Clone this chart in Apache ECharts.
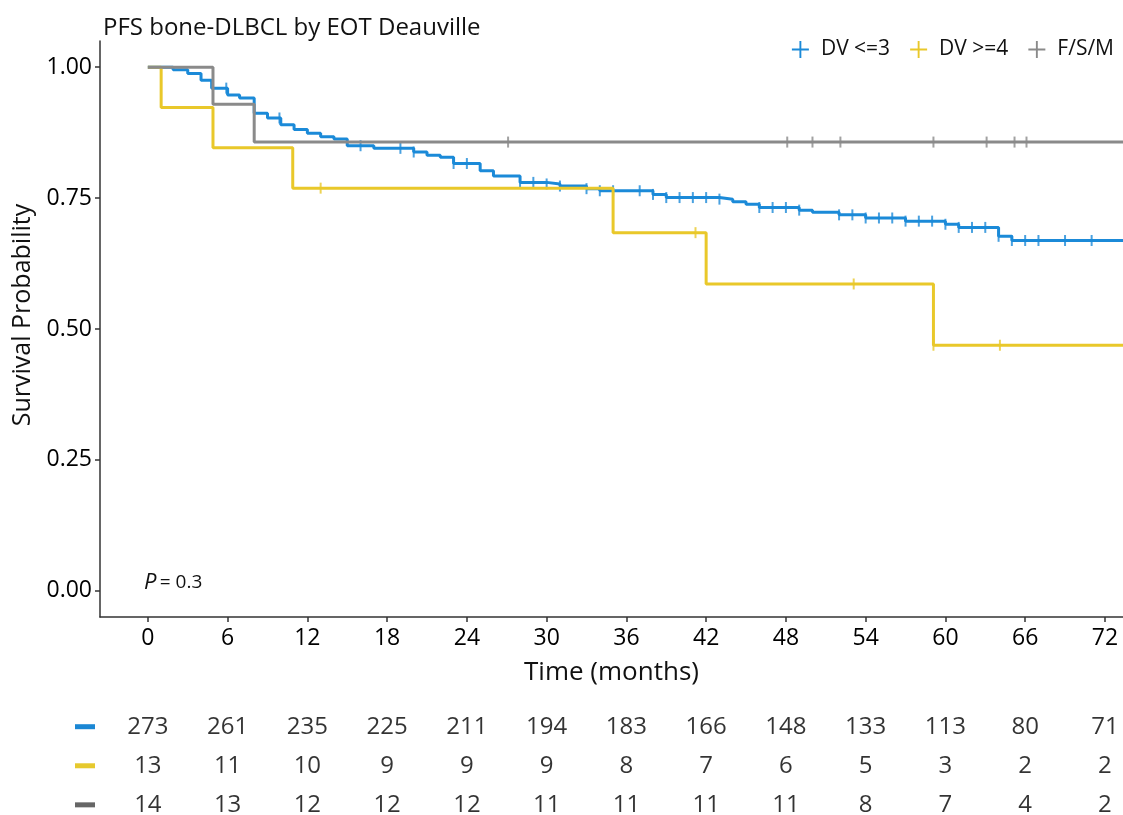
<!DOCTYPE html>
<html>
<head>
<meta charset="utf-8">
<script src="https://cdn.jsdelivr.net/npm/echarts@6/dist/echarts.min.js"></script>
<style>
html,body{margin:0;padding:0;background:#fff;}
#chart{width:1123px;height:815px;}
</style>
</head>
<body>
<div id="chart"></div>
<script>
// ---------- data ----------
const timeTicks = [0, 6, 12, 18, 24, 30, 36, 42, 48, 54, 60, 66, 72];
const yTicks = [0, 0.25, 0.5, 0.75, 1];
const groupNames = ['DV <=3', 'DV >=4', 'F/S/M'];
const rowIndex = [0, 1, 2];
const followUpEnd = 74;

const blueTimes = [0, 1.9, 3.0, 4.0, 4.8, 6.0, 6.9, 8.0, 9.0, 10.0, 11.0, 12.0, 13.0, 14.0, 15.0, 17.0, 20.0, 21.0, 22.0, 23.0, 25.0, 26.0, 28.0, 30.0, 31.0, 33.0, 34.0, 38.0, 39.0, 43.0, 44.0, 45.0, 46.0, 49.0, 50.0, 52.0, 54.0, 57.0, 60.0, 61.0, 64.0, 65.0];
const blueSurv  = [1.000, 0.995, 0.988, 0.975, 0.960, 0.947, 0.941, 0.912, 0.903, 0.890, 0.881, 0.874, 0.867, 0.863, 0.850, 0.845, 0.838, 0.832, 0.828, 0.816, 0.802, 0.792, 0.780, 0.777, 0.773, 0.768, 0.764, 0.757, 0.751, 0.748, 0.743, 0.738, 0.732, 0.727, 0.723, 0.718, 0.712, 0.706, 0.700, 0.694, 0.677, 0.669];
const blueCensor = [5.9, 9.9, 16.0, 19.0, 20.0, 23.0, 24.0, 28.0, 29.0, 30.0, 31.0, 33.0, 34.0, 35.0, 37.0, 38.0, 39.0, 40.0, 41.0, 42.0, 43.0, 46.0, 47.0, 48.0, 49.0, 52.0, 53.0, 54.0, 55.0, 56.0, 57.0, 58.0, 59.0, 60.0, 61.0, 62.0, 63.0, 64.0, 65.0, 66.0, 67.0, 69.0, 71.0];

const yellowTimes = [0, 1.0, 4.9, 10.9, 35.0, 42.0, 59.1];
const yellowSurv  = [1.000, 0.923, 0.846, 0.769, 0.684, 0.586, 0.469];
const yellowCensor = [13.0, 41.2, 53.1, 59.1, 64.1];

const grayTimes = [0, 4.9, 8.0];
const graySurv  = [1.000, 0.929, 0.857];
const grayCensor = [27.1, 48.1, 50.0, 52.1, 59.1, 63.1, 65.2, 66.1];

const riskBlue   = [273, 261, 235, 225, 211, 194, 183, 166, 148, 133, 113, 80, 71];
const riskYellow = [13, 11, 10, 9, 9, 9, 8, 7, 6, 5, 3, 2, 2];
const riskGray   = [14, 13, 12, 12, 12, 11, 11, 11, 11, 8, 7, 4, 2];

// ---------- helpers ----------
const colors = ['#1b8ad8', '#e9c82a', '#8a8a8a'];
const dashColors = ['#1b87d4', '#e6c92e', '#666666'];
const FONT = '"Open Sans", "Noto Sans", sans-serif';

function stepAt(T, S, t) {
  let v = S[0];
  for (let i = 0; i < T.length; i++) if (T[i] <= t + 1e-9) v = S[i];
  return v;
}
function curve(T, S) {
  const d = T.map((t, i) => [t, S[i]]);
  d.push([followUpEnd, S[S.length - 1]]);
  return d;
}
function censorPts(T, S, C) { return C.map(t => [t, stepAt(T, S, t)]); }

const groups = [
  {T: blueTimes, S: blueSurv, C: blueCensor, risk: riskBlue},
  {T: yellowTimes, S: yellowSurv, C: yellowCensor, risk: riskYellow},
  {T: grayTimes, S: graySurv, C: grayCensor, risk: riskGray}
];

const series = [];
groups.forEach((g, i) => {
  series.push({
    name: groupNames[i], type: 'line', step: 'end', showSymbol: false, symbol: 'none',
    data: curve(g.T, g.S), lineStyle: {width: 3, color: colors[i]}, itemStyle: {color: colors[i]},
    z: 2 + i, silent: true
  });
});
groups.forEach((g, i) => {
  series.push({
    name: groupNames[i], type: 'scatter', symbol: 'rect', symbolSize: [2, 11],
    data: censorPts(g.T, g.S, g.C), itemStyle: {color: colors[i]}, z: 2 + i, silent: true
  });
});
groups.forEach((g, i) => {
  series.push({
    name: 'risk' + i, type: 'scatter', xAxisIndex: 1, yAxisIndex: 1,
    symbol: 'circle', symbolSize: 1, itemStyle: {color: 'rgba(0,0,0,0)'}, silent: true,
    data: g.risk.map((n, k) => [timeTicks[k], rowIndex[i], n]),
    label: {show: true, position: 'inside', formatter: p => String(p.value[2]),
            fontSize: 24, color: '#000', fontFamily: FONT}
  });
});

const plusIcon = 'path://M8,0h2v8h8v2h-8v8h-2v-8h-8v-2h8z';

const option = {
  animation: false,
  backgroundColor: '#fff',
  textStyle: {fontFamily: FONT},
  title: {
    text: 'PFS bone-DLBCL by EOT Deauville', left: 98, top: 11,
    textStyle: {fontSize: 24, fontWeight: 'normal', color: '#111', fontFamily: FONT}
  },
  legend: {
    data: groupNames.map(n => ({name: n, icon: plusIcon})),
    right: 4, top: 34, itemWidth: 17, itemHeight: 17, itemGap: 20,
    textStyle: {fontSize: 21, color: '#111', fontFamily: FONT, padding: [0, 0, 0, 7]}, selectedMode: false
  },
  grid: [
    {left: 100, right: 0, top: 41, height: 576},
    {left: 100, right: 0, top: 706, bottom: 0}
  ],
  xAxis: [
    {
      type: 'value', gridIndex: 0, min: -3.6, max: 73.36,
      name: 'Time (months)', nameLocation: 'middle', nameGap: 43,
      nameTextStyle: {fontSize: 26, color: '#111', fontFamily: FONT},
      axisLine: {show: true, onZero: false, lineStyle: {color: '#333', width: 1.5}},
      axisTick: {show: true, length: 5, customValues: timeTicks, lineStyle: {color: '#333', width: 1.5}},
      axisLabel: {customValues: timeTicks, fontSize: 23, color: '#000', margin: 10, fontFamily: FONT},
      splitLine: {show: false}
    },
    {type: 'value', gridIndex: 1, min: -3.6, max: 73.36, show: false}
  ],
  yAxis: [
    {
      type: 'value', gridIndex: 0, min: -0.05, max: 1.05,
      name: 'Survival Probability', nameLocation: 'middle', nameGap: 64,
      nameTextStyle: {fontSize: 25, color: '#111', fontFamily: FONT, padding: [0, 0, 0, 28]},
      axisLine: {show: true, onZero: false, lineStyle: {color: '#333', width: 1.5}},
      axisTick: {show: true, length: 5, customValues: yTicks, lineStyle: {color: '#333', width: 1.5}},
      axisLabel: {customValues: yTicks, formatter: v => v.toFixed(2), fontSize: 23, color: '#000', margin: 8, fontFamily: FONT},
      splitLine: {show: false}
    },
    {
      type: 'value', gridIndex: 1, inverse: true, min: -0.53, max: 2.26,
      axisLine: {show: false}, axisTick: {show: false}, splitLine: {show: false},
      axisLabel: {
        margin: 5, customValues: rowIndex,
        formatter: v => '{d' + Math.round(v) + '|}',
        rich: {
          d0: {width: 20, height: 5, backgroundColor: dashColors[0]},
          d1: {width: 20, height: 5, backgroundColor: dashColors[1]},
          d2: {width: 20, height: 5, backgroundColor: dashColors[2]}
        }
      }
    }
  ],
  graphic: [
    {
      type: 'text', left: 144, top: 572, silent: true,
      style: {
        text: '{p|P} {e|= 0.3}',
        rich: {
          p: {fontSize: 22, fontStyle: 'italic', fill: '#111', fontFamily: FONT},
          e: {fontSize: 19, fill: '#111', fontFamily: FONT}
        }
      }
    }
  ],
  series: series
};

const chart = echarts.init(document.getElementById('chart'), null, {renderer: 'canvas'});
chart.setOption(option);
</script>
</body>
</html>
